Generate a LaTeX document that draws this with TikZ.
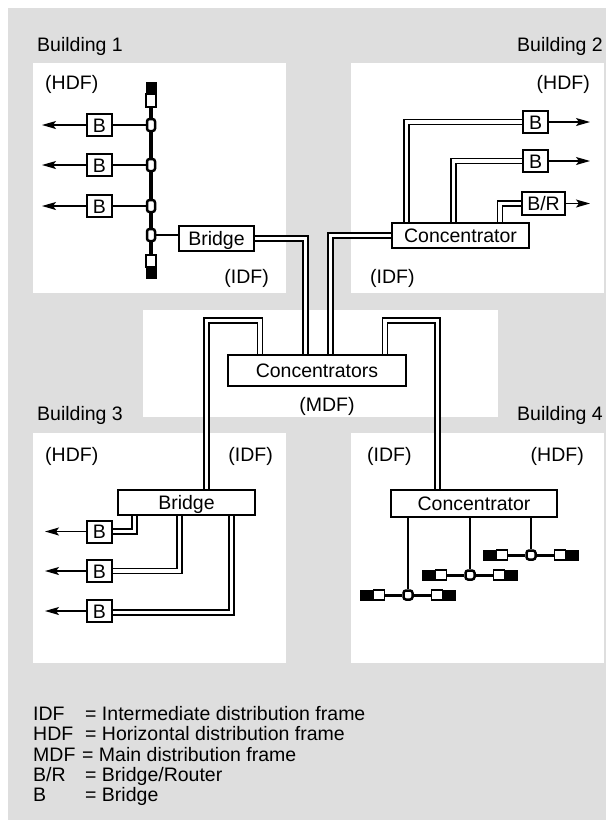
\documentclass[tikz,border=0pt]{standalone}
\usepackage{fontspec}
\setmainfont{Liberation Sans}
\usetikzlibrary{arrows.meta}
\definecolor{bggrey}{HTML}{DEDEDE}
\pgfdeclarelayer{back}
\pgfdeclarelayer{conn}
\pgfsetlayers{back,conn,main}
\begin{document}
\begin{tikzpicture}[x=1pt,y=-1pt,
  font=\fontsize{19.5}{23}\selectfont,
  box/.style={draw, fill=white, line width=2pt, inner sep=0pt, text height=14pt, text depth=0pt},
  bbox/.style={box, minimum width=25pt, minimum height=22pt},
  lbl/.style={inner sep=0pt},
  conn/.style={line width=1.3pt},
  arr/.style={conn, -{Stealth[length=14pt,width=8pt,inset=3pt]}},
  dbl/.style={line width=1.3pt, double=white, double distance=3.7pt, line join=miter},
  tapv/.style={draw, fill=white, line width=2.5pt, rounded corners=2.5pt, minimum width=8pt, minimum height=12pt, inner sep=0pt},
  taph/.style={draw, fill=white, line width=2.5pt, rounded corners=2.5pt, minimum width=9pt, minimum height=9pt, inner sep=0pt},
  wblk/.style={draw, fill=white, line width=1.2pt},
]
\useasboundingbox (0,0) rectangle (616,828);
\begin{pgfonlayer}{back}
\fill[white] (0,0) rectangle (616,828);
\fill[bggrey] (8,8) rectangle (606,820);
\fill[white] (33,63) rectangle (286,293);
\fill[white] (351,63) rectangle (604,293);
\fill[white] (143,310) rectangle (498,417);
\fill[white] (33,433) rectangle (286,663);
\fill[white] (351,433) rectangle (604,663);
\end{pgfonlayer}

% ---------- labels
\node[lbl, anchor=base west] (lb1) at (37,51) {Building 1};
\node[lbl, anchor=base east] (lb2) at (603,51) {Building 2};
\node[lbl, anchor=base west] (lb3) at (37,420) {Building 3};
\node[lbl, anchor=base east] (lb4) at (603,420) {Building 4};
\node[lbl, anchor=base west] (h1) at (45,89) {(HDF)};
\node[lbl, anchor=base east] (i1) at (269,283) {(IDF)};
\node[lbl, anchor=base east] (h2) at (590,89) {(HDF)};
\node[lbl, anchor=base west] (i2) at (370,283) {(IDF)};
\node[lbl, anchor=base] (m) at (327,411) {(MDF)};
\node[lbl, anchor=base west] (h3) at (45,461) {(HDF)};
\node[lbl, anchor=base east] (i3) at (273,461) {(IDF)};
\node[lbl, anchor=base west] (i4) at (367,461) {(IDF)};
\node[lbl, anchor=base east] (h4) at (584,461) {(HDF)};

% ---------- Building 1
\fill (145.5,82) rectangle (156.5,94);
\node[wblk, minimum width=10pt, minimum height=13pt, inner sep=0pt] (term1) at (151,100.5) {};
\node[wblk, minimum width=10pt, minimum height=12pt, inner sep=0pt] (term2) at (151,261) {};
\fill (145.5,267) rectangle (156.5,279);
\begin{pgfonlayer}{conn}
\draw[line width=4pt] (term1.south) -- (term2.north);
\end{pgfonlayer}
\node[tapv] (tp1) at (151,125) {};
\node[tapv] (tp2) at (151,165) {};
\node[tapv] (tp3) at (151,206) {};
\node[tapv] (tp4) at (151,235) {};
\node[bbox] (b1a) at (99.5,125) {B};
\node[bbox] (b1b) at (99.5,165) {B};
\node[bbox] (b1c) at (99.5,206) {B};
\node[box, minimum width=75pt, minimum height=25pt] (br1) at (216.5,238.5) {Bridge};
\coordinate (e1a) at (42,125);
\coordinate (e1b) at (42,165);
\coordinate (e1c) at (42,206);

% ---------- Building 2
\node[box, minimum width=137pt, minimum height=25pt] (c2) at (460.5,235.5) {Concentrator};
\node[bbox] (b2a) at (535.5,122) {B};
\node[bbox] (b2b) at (535.5,161) {B};
\node[box, minimum width=43pt, minimum height=23pt] (br2) at (543.5,203.5) {B/R};
\coordinate (e2a) at (590,122);
\coordinate (e2b) at (590,161);
\coordinate (e2c) at (590,203.5);

% ---------- MDF
\node[box, minimum width=178pt, minimum height=31pt] (mc) at (317,370.5) {Concentrators};

% ---------- Building 3
\node[box, minimum width=137pt, minimum height=25pt] (br3) at (186.5,502.5) {Bridge};
\node[bbox] (b3a) at (99.5,531.5) {B};
\node[bbox] (b3b) at (99.5,571) {B};
\node[bbox] (b3c) at (99.5,611) {B};
\coordinate (e3a) at (45,531.5);
\coordinate (e3b) at (45,571);
\coordinate (e3c) at (45,611);

% ---------- Building 4
\node[box, minimum width=166pt, minimum height=27pt] (c4) at (474,503.5) {Concentrator};
\foreach \cx/\cy [count=\i] in {408/595,470/575,531/555} {
  \fill (\cx-48,\cy-5.5) rectangle (\cx-35,\cy+5.5);
  \fill (\cx+35,\cy-5.5) rectangle (\cx+48,\cy+5.5);
  \node[wblk, minimum width=11pt, minimum height=10pt, inner sep=0pt] (wl\i) at (\cx-29,\cy) {};
  \node[wblk, minimum width=11pt, minimum height=10pt, inner sep=0pt] (wr\i) at (\cx+29,\cy) {};
  \node[taph] (s\i) at (\cx,\cy) {};
  \begin{pgfonlayer}{conn}
  \draw[line width=3pt] (wl\i.east) -- (s\i.west);
  \draw[line width=3pt] (s\i.east) -- (wr\i.west);
  \draw[conn] (c4.south -| s\i.north) -- (s\i.north);
  \end{pgfonlayer}
}

% ---------- Legend
\node[lbl, anchor=base west] (k1) at (33,720) {IDF};
\node[lbl, anchor=base west] (v1) at (85,720) {= Intermediate distribution frame};
\node[lbl, anchor=base west] (k2) at (33,740.5) {HDF};
\node[lbl, anchor=base west] (v2) at (85,740.5) {= Horizontal distribution frame};
\node[lbl, anchor=base west] (k3) at (33,761) {MDF};
\node[lbl, anchor=base west] (v3) at (82,761) {= Main distribution frame};
\node[lbl, anchor=base west] (k4) at (33,781) {B/R};
\node[lbl, anchor=base west] (v4) at (85,781) {= Bridge/Router};
\node[lbl, anchor=base west] (k5) at (33,801) {B};
\node[lbl, anchor=base west] (v5) at (85,801) {= Bridge};

% ---------- connectors
\begin{pgfonlayer}{conn}
% building 1
\draw[conn] (b1a.east) -- (tp1.west);
\draw[conn] (b1b.east) -- (tp2.west);
\draw[conn] (b1c.east) -- (tp3.west);
\draw[conn] (tp4.east) -- (tp4.east -| br1.west);
\draw[arr] (b1a.west) -- (e1a);
\draw[arr] (b1b.west) -- (e1b);
\draw[arr] (b1c.west) -- (e1c);
% building 2
\draw[arr] (b2a.east) -- (e2a);
\draw[arr] (b2b.east) -- (e2b);
\draw[arr] (br2.east) -- (e2c);
\draw[dbl] (c2.north -| 406.5,0) |- (b2a.west);
\draw[dbl] (c2.north -| 453.5,0) |- (b2b.west);
\draw[dbl] (c2.north -| 500,0) |- (br2.west);
% to MDF
\draw[dbl] (br1.east) -| (mc.north -| 305.5,0);
\draw[dbl] (c2.west) -| (mc.north -| 330.5,0);
\draw[dbl] (mc.north -| 260,0) -- (260,320.5) -- (206.5,320.5) -- (br3.north -| 206.5,0);
\draw[dbl] (mc.north -| 385,0) -- (385,320.5) -- (437.5,320.5) -- (c4.north -| 437.5,0);
% building 3
\draw[dbl] (br3.south -| 134.5,0) |- (b3a.east);
\draw[dbl] (br3.south -| 179.5,0) |- (b3b.east);
\draw[dbl] (br3.south -| 231.5,0) |- ([yshift=-1.5pt]b3c.east);
\draw[arr] (b3a.west) -- (e3a);
\draw[arr] (b3b.west) -- (e3b);
\draw[arr] (b3c.west) -- (e3c);
\end{pgfonlayer}
\end{tikzpicture}
\end{document}
